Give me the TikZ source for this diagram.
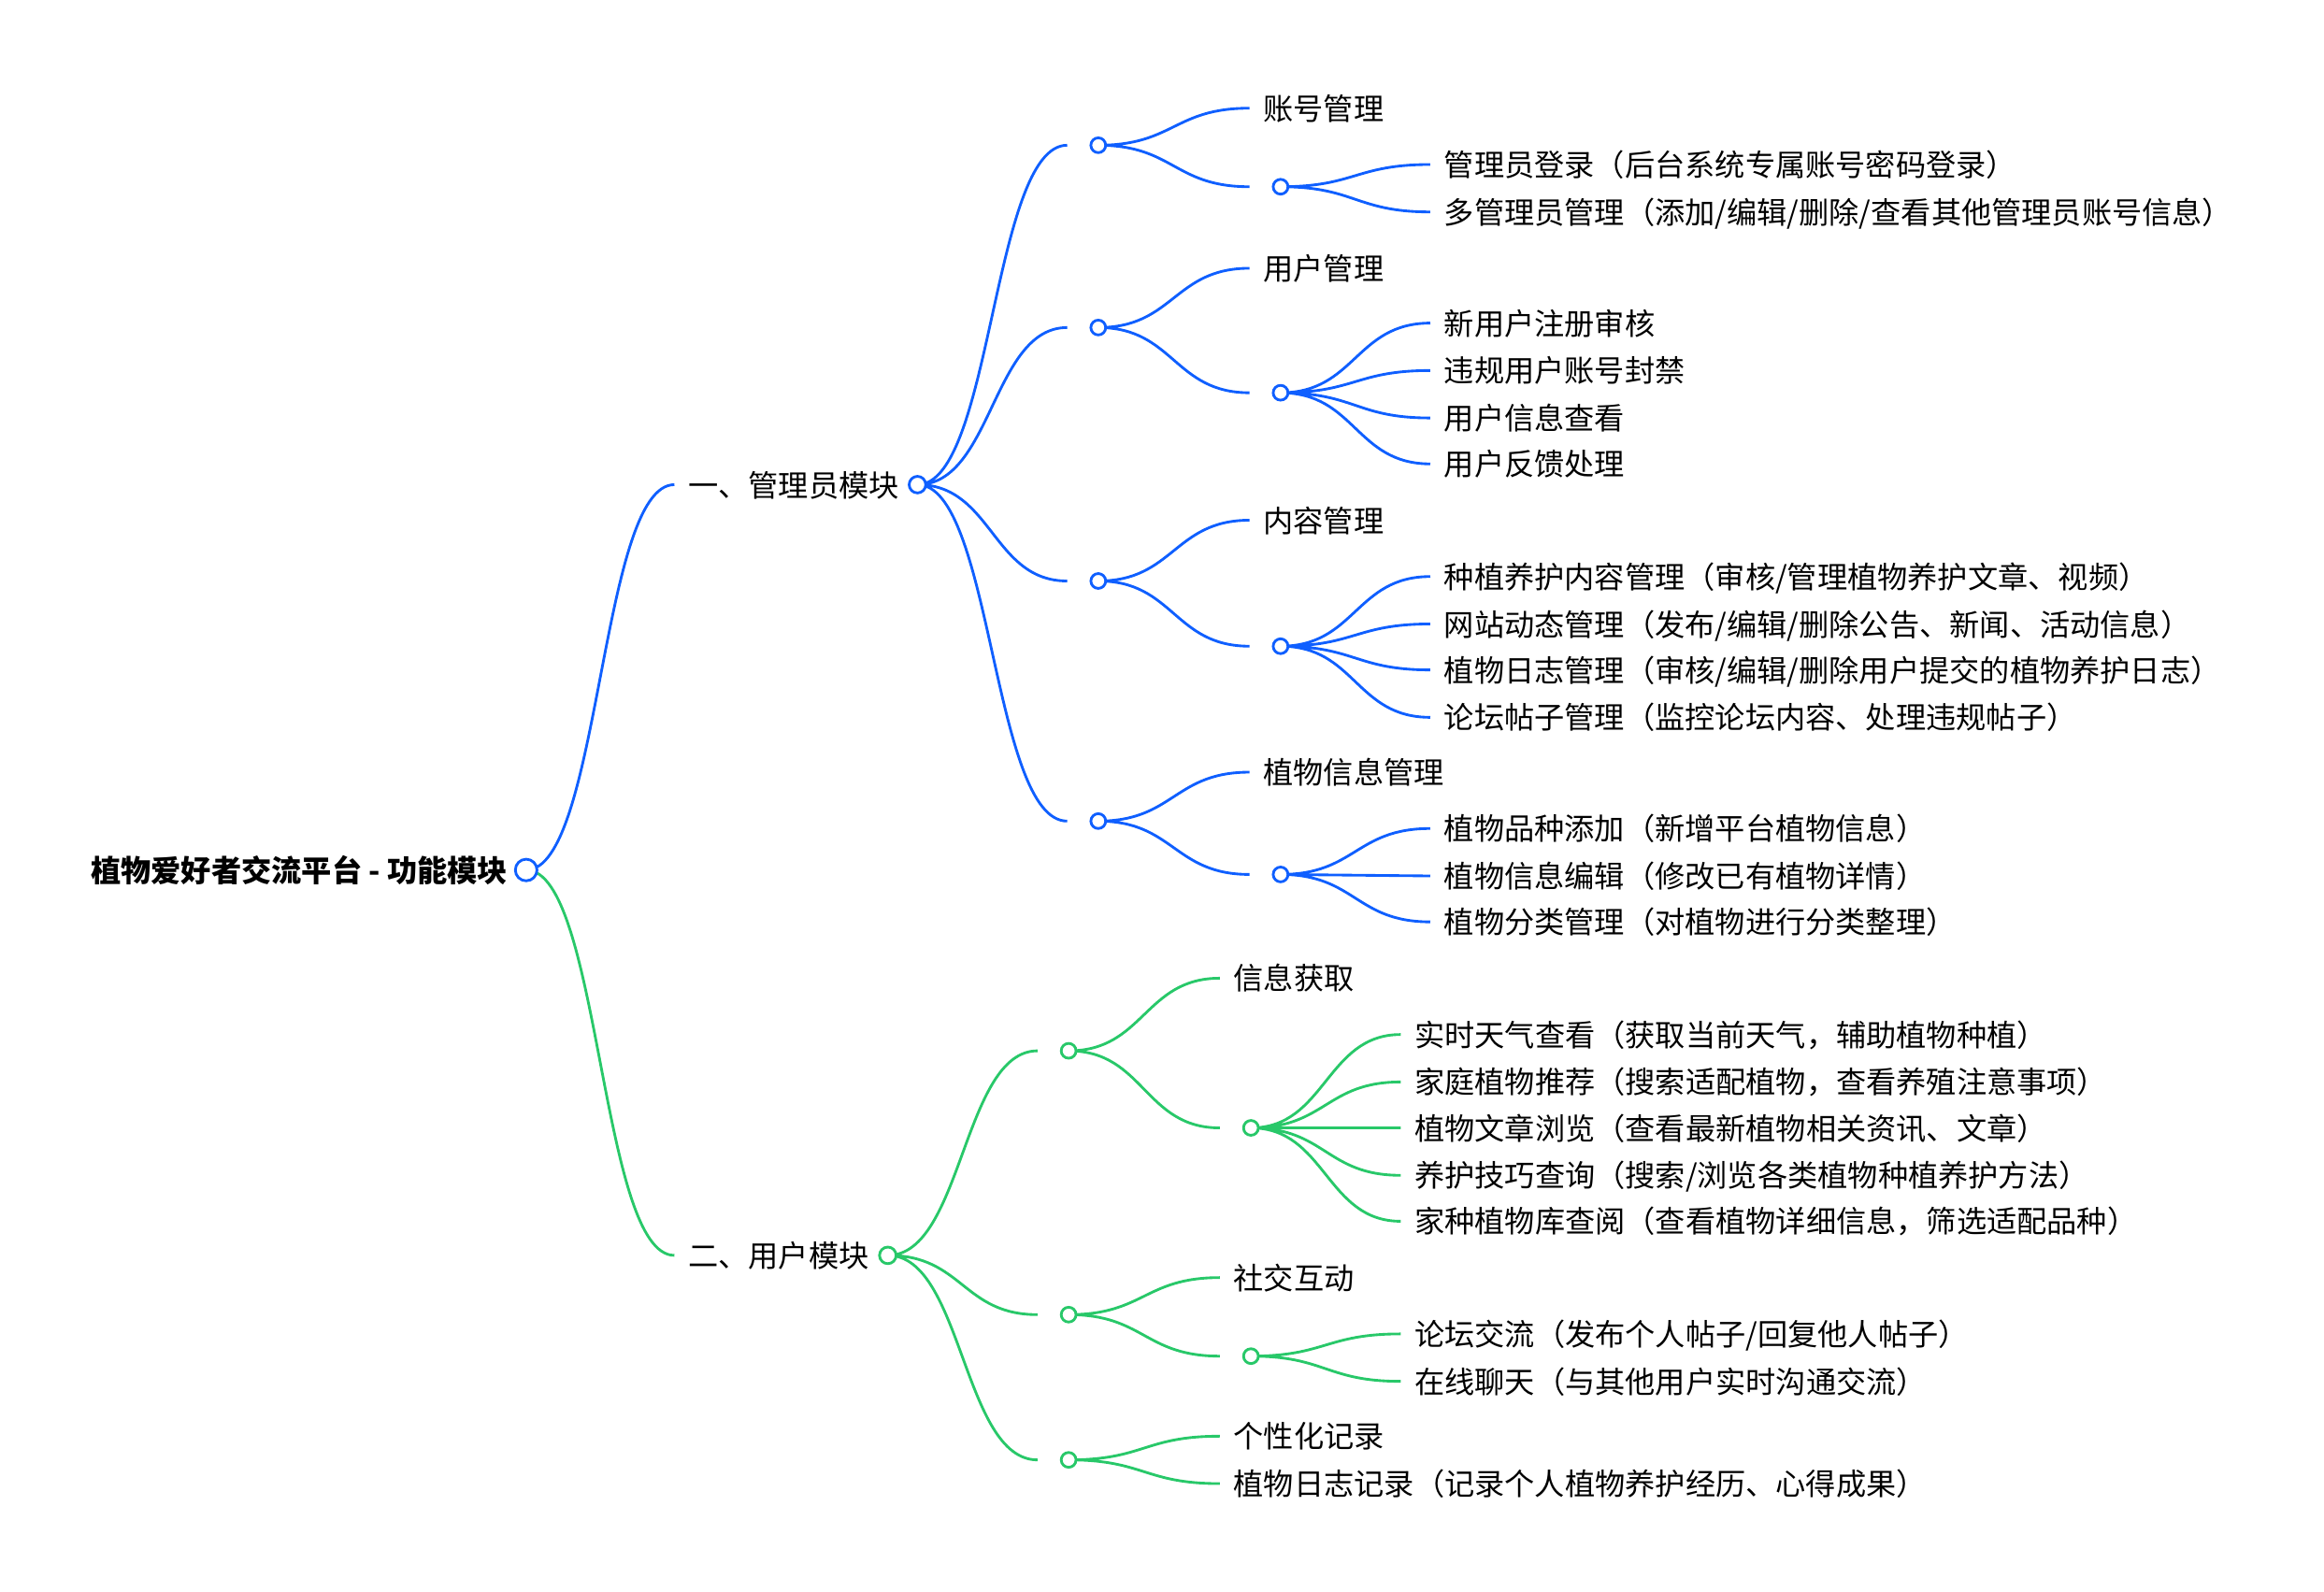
\documentclass[tikz,border=0pt]{standalone}
\usepackage{fontspec}
\setmainfont{Noto Sans CJK SC}[Scale=1.016]
\usetikzlibrary{positioning,calc}
\pgfdeclarelayer{bg}
\pgfsetlayers{bg,main}
\definecolor{admblue}{RGB}{15,95,255}
\definecolor{usrgreen}{RGB}{40,200,105}
\tikzset{
  item/.style={anchor=west,inner xsep=4.5pt,inner ysep=0pt,text height=0.9em,text depth=0.12em},
  dot/.style={circle,draw,fill=white,line width=0.9pt,inner sep=0pt,minimum size=5pt},
  link/.style={line width=0.9pt,to path={let \p1=(\tikztostart),\p2=(\tikztotarget) in
      .. controls ({(\x1+\x2)/2},\y1) and ({(\x1+\x2)/2},\y2) .. (\tikztotarget)}},
}

\begin{document}
\begin{tikzpicture}[x=0.5pt,y=-0.5pt]
  \useasboundingbox (0,0) rectangle (1568,1074);
  % root
  \node[item,anchor=east,font=\bfseries] (root) at (352,587) {植物爱好者交流平台 - 功能模块};
  \node[dot,draw=admblue,minimum size=7.3pt] (rootdot) at (355,587) {};

  % admin part
  \begin{scope}[dot/.append style={draw=admblue},link/.append style={admblue}]
    \node[item] (adm) at (455,327) {一、管理员模块};
    \node[dot,minimum size=5.6pt] (admdot) at (619,327) {};
    \coordinate (a1) at (720,98);  \node[dot] (A1) at (741,98) {};
    \coordinate (a2) at (720,221); \node[dot] (A2) at (741,221) {};
    \coordinate (a3) at (720,392); \node[dot] (A3) at (741,392) {};
    \coordinate (a4) at (720,554); \node[dot] (A4) at (741,554) {};

    \node[item] (acc) at (843,73) {账号管理};
    \coordinate (b1) at (843,126); \node[dot] (B1) at (864,126) {};
    \node[item] (acc1) at (965,111) {管理员登录（后台系统专属账号密码登录）};
    \node[item] (acc2) at (965,143) {多管理员管理（添加/编辑/删除/查看其他管理员账号信息）};

    \node[item] (usr) at (843,181) {用户管理};
    \coordinate (b2) at (843,265); \node[dot] (B2) at (864,265) {};
    \node[item] (usr1) at (965,218) {新用户注册审核};
    \node[item] (usr2) at (965,250) {违规用户账号封禁};
    \node[item] (usr3) at (965,282) {用户信息查看};
    \node[item] (usr4) at (965,313) {用户反馈处理};

    \node[item] (cnt) at (843,351) {内容管理};
    \coordinate (b3) at (843,436); \node[dot] (B3) at (864,436) {};
    \node[item] (cnt1) at (965,389) {种植养护内容管理（审核/管理植物养护文章、视频）};
    \node[item] (cnt2) at (965,421) {网站动态管理（发布/编辑/删除公告、新闻、活动信息）};
    \node[item] (cnt3) at (965,452) {植物日志管理（审核/编辑/删除用户提交的植物养护日志）};
    \node[item] (cnt4) at (965,484) {论坛帖子管理（监控论坛内容、处理违规帖子）};

    \node[item] (pl) at (843,521) {植物信息管理};
    \coordinate (b4) at (843,590); \node[dot] (B4) at (864,590) {};
    \node[item] (pl1) at (965,559) {植物品种添加（新增平台植物信息）};
    \node[item] (pl2) at (965,591) {植物信息编辑（修改已有植物详情）};
    \node[item] (pl3) at (965,622) {植物分类管理（对植物进行分类整理）};

    \begin{pgfonlayer}{bg}
      \draw[link] (rootdot.center) to (adm.west);
      \draw[link] (admdot.center) to (a1) (admdot.center) to (a2)
                  (admdot.center) to (a3) (admdot.center) to (a4);
      \draw[link] (A1.center) to (acc.west) (A1.center) to (b1);
      \draw[link] (B1.center) to (acc1.west) (B1.center) to (acc2.west);
      \draw[link] (A2.center) to (usr.west) (A2.center) to (b2);
      \draw[link] (B2.center) to (usr1.west) (B2.center) to (usr2.west)
                  (B2.center) to (usr3.west) (B2.center) to (usr4.west);
      \draw[link] (A3.center) to (cnt.west) (A3.center) to (b3);
      \draw[link] (B3.center) to (cnt1.west) (B3.center) to (cnt2.west)
                  (B3.center) to (cnt3.west) (B3.center) to (cnt4.west);
      \draw[link] (A4.center) to (pl.west) (A4.center) to (b4);
      \draw[link] (B4.center) to (pl1.west) (B4.center) to (pl2.west)
                  (B4.center) to (pl3.west);
    \end{pgfonlayer}
  \end{scope}

  % user part
  \begin{scope}[dot/.append style={draw=usrgreen},link/.append style={usrgreen}]
    \node[item] (us) at (455,847) {二、用户模块};
    \node[dot,minimum size=5.6pt] (usdot) at (599,847) {};
    \coordinate (u1) at (700,709); \node[dot] (U1) at (721,709) {};
    \coordinate (u2) at (700,887); \node[dot] (U2) at (721,887) {};
    \coordinate (u3) at (700,985); \node[dot] (U3) at (721,985) {};

    \node[item] (inf) at (823,660) {信息获取};
    \coordinate (v1) at (823,761); \node[dot] (V1) at (844,761) {};
    \node[item] (inf1) at (945,698) {实时天气查看（获取当前天气，辅助植物种植）};
    \node[item] (inf2) at (945,730) {家庭植物推荐（搜索适配植物，查看养殖注意事项）};
    \node[item] (inf3) at (945,761) {植物文章浏览（查看最新植物相关资讯、文章）};
    \node[item] (inf4) at (945,793) {养护技巧查询（搜索/浏览各类植物种植养护方法）};
    \node[item] (inf5) at (945,824) {家种植物库查阅（查看植物详细信息，筛选适配品种）};

    \node[item] (soc) at (823,862) {社交互动};
    \coordinate (v2) at (823,915); \node[dot] (V2) at (844,915) {};
    \node[item] (soc1) at (945,900) {论坛交流（发布个人帖子/回复他人帖子）};
    \node[item] (soc2) at (945,932) {在线聊天（与其他用户实时沟通交流）};

    \node[item] (rec) at (823,969) {个性化记录};
    \node[item] (rec1) at (823,1001) {植物日志记录（记录个人植物养护经历、心得成果）};

    \begin{pgfonlayer}{bg}
      \draw[link] (rootdot.center) to (us.west);
      \draw[link] (usdot.center) to (u1) (usdot.center) to (u2) (usdot.center) to (u3);
      \draw[link] (U1.center) to (inf.west) (U1.center) to (v1);
      \draw[link] (V1.center) to (inf1.west) (V1.center) to (inf2.west)
                  (V1.center) to (inf3.west) (V1.center) to (inf4.west)
                  (V1.center) to (inf5.west);
      \draw[link] (U2.center) to (soc.west) (U2.center) to (v2);
      \draw[link] (V2.center) to (soc1.west) (V2.center) to (soc2.west);
      \draw[link] (U3.center) to (rec.west) (U3.center) to (rec1.west);
    \end{pgfonlayer}
  \end{scope}
\end{tikzpicture}
\end{document}
